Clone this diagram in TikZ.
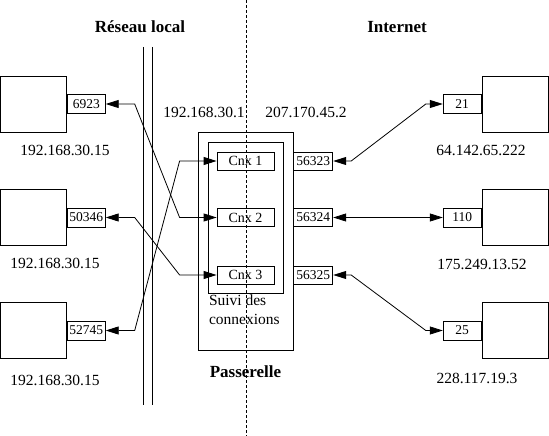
\documentclass[tikz,border=0pt]{standalone}
\usepackage{fontspec}
\setmainfont{Liberation Serif}
\usetikzlibrary{arrows.meta,positioning,calc}

\tikzset{
  host/.style={draw, minimum width=66pt, minimum height=56pt, inner sep=0pt},
  port/.style={draw, minimum width=38pt, minimum height=19pt, inner sep=0pt, font=\fontsize{13.5}{15}\selectfont},
  cnxbox/.style={draw, minimum width=57pt, minimum height=18pt, inner sep=0pt, font=\fontsize{14}{16}\selectfont},
  addr/.style={font=\fontsize{15.5}{17}\selectfont},
  zone/.style={font=\bfseries\fontsize{17}{19}\selectfont},
  link/.style={{Triangle[length=13pt,width=8pt]}-{Triangle[length=13pt,width=8pt]}},
}

\begin{document}
\begin{tikzpicture}[x=1pt,y=-1pt,line width=0.8pt]
\useasboundingbox (0,0) rectangle (549,436);
% Frontiere reseau local / internet
\draw[dash pattern=on 3pt off 2pt] (246,0) -- (246,436);
\draw (143,47) -- (143,405);
\draw (152,47) -- (152,405);
\node[zone] (lan) at (140,27) {Réseau local};
\node[zone] (wan) at (397,27) {Internet};
% Postes du reseau local
\node[host] (lh1) at (33.5,104) {};
\node[host] (lh2) at (33.5,217.5) {};
\node[host] (lh3) at (33.5,330.5) {};
\node[port,anchor=west] (lp1) at (lh1.east) {6923};
\node[port,anchor=west] (lp2) at (lh2.east) {50346};
\node[port,anchor=west] (lp3) at (lh3.east) {52745};
\node[addr] (lip1) at (65,150) {192.168.30.15};
\node[addr] (lip2) at (55,263) {192.168.30.15};
\node[addr] (lip3) at (55,380) {192.168.30.15};
% Serveurs sur internet
\node[host] (rh1) at (515,104) {};
\node[host] (rh2) at (515,217.5) {};
\node[host] (rh3) at (515,330.5) {};
\node[port,anchor=east] (rp1) at (rh1.west) {21};
\node[port,anchor=east] (rp2) at (rh2.west) {110};
\node[port,anchor=east] (rp3) at (rh3.west) {25};
\node[addr] (rip1) at (481,150) {64.142.65.222};
\node[addr] (rip2) at (482,264) {175.249.13.52};
\node[addr] (rip3) at (477,378) {228.117.19.3};
% Passerelle
\node[draw,minimum width=95pt,minimum height=218pt] (gw) at (245.5,241) {};
\node[draw,minimum width=75pt,minimum height=151pt] (suivi) at (245.5,217.5) {};
\node[cnxbox] (c1) at (245.5,161) {Cnx 1};
\node[cnxbox] (c2) at (245.5,217.5) {Cnx 2};
\node[cnxbox] (c3) at (245.5,275) {Cnx 3};
\node[port,anchor=west,minimum width=39pt,minimum height=18pt] (gp1) at (gw.east |- c1) {56323};
\node[port,anchor=west,minimum width=39pt,minimum height=18pt] (gp2) at (gw.east |- c2) {56324};
\node[port,anchor=west,minimum width=39pt,minimum height=18pt] (gp3) at (gw.east |- c3) {56325};
\node[anchor=north west,align=left,inner sep=1pt,font=\fontsize{15.5}{19}\selectfont] (suivilbl) at (suivi.south west) {Suivi des\\connexions};
\node[zone,below=12pt of gw] (gwlbl) {Passerelle};
\node[addr] (gwlan) at (204,112) {192.168.30.1};
\node[addr] (gwwan) at (306,112) {207.170.45.2};
% Connexions cote local
\draw[link] (lp1.east) -- ++(29,0) -- ($(c2.west)+(-37,0)$) -- (c2.west);
\draw[link] (lp2.east) -- ++(29,0) -- ($(c3.west)+(-37,0)$) -- (c3.west);
\draw[link] (lp3.east) -- ++(29,0) -- ($(c1.west)+(-37,0)$) -- (c1.west);
% Connexions cote internet
\draw[link] (gp1.east) -- ++(18,0) -- ($(rp1.west)+(-17,0)$) -- (rp1.west);
\draw[link] (gp2.east) -- (rp2.west);
\draw[link] (gp3.east) -- ++(18,0) -- ($(rp3.west)+(-17,0)$) -- (rp3.west);
\end{tikzpicture}
\end{document}
